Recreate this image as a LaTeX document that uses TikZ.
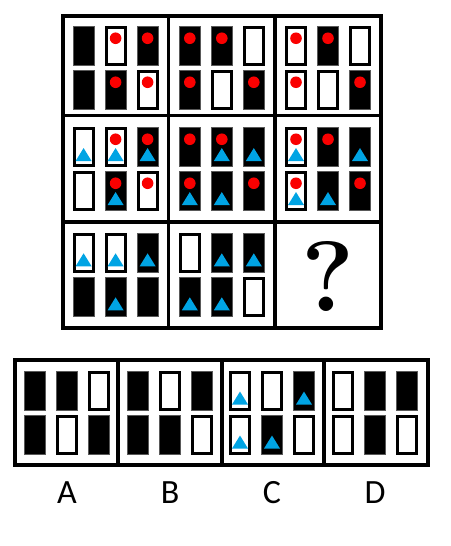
\documentclass[tikz,border=0pt]{standalone}
\usepackage{fontspec}
\setsansfont{Carlito}
\definecolor{dotred}{RGB}{250,0,0}
\definecolor{triblue}{RGB}{0,164,228}
\tikzset{
  wbox/.style={draw=black,fill=white,line width=3pt},
  bbox/.style={draw=black!65,fill=black,line width=0.8pt},
  reddot/.style={fill=dotred},
  bluetri/.style={fill=triblue},
  frame/.style={draw=black,line width=3.2pt},
  lbl/.style={inner sep=0pt,anchor=base,font=\sffamily\fontsize{34}{40}\selectfont}
}
% #1 x, #2 y of slot centre, #3 W/B, #4 dot, #5 triangle
\newcommand\slotbox[5]{%
  \if#3W
    \draw[wbox] ({#1-9.5},{#2-18.5}) rectangle ({#1+9.5},{#2+18.5});
  \else
    \draw[bbox] ({#1-10.6},{#2-19.6}) rectangle ({#1+10.6},{#2+19.6});
  \fi
  \ifnum#4=1 \fill[reddot] ({#1},{#2-8}) circle[radius=5.8pt]; \fi
  \ifnum#5=1 \fill[bluetri] ({#1-8},{#2+13.8}) -- ({#1+8},{#2+13.8}) -- ({#1},{#2+0.8}) -- cycle; \fi
}
% #1 cx, #2 cy, #3 list of six T/d/t
\newcommand\cellgroup[3]{%
  \foreach \T/\d/\t [count=\k from 0] in {#3}{%
    \pgfmathsetmacro\sx{#1+(mod(\k,3)-1)*32}%
    \pgfmathsetmacro\sy{#2-22+(\k>2)*44}%
    \slotbox{\sx}{\sy}{\T}{\d}{\t}%
  }%
}
\begin{document}
\begin{tikzpicture}[x=1pt,y=-1pt]
\useasboundingbox (0,0) rectangle (450,546);
% main grid
\draw[frame] (63,16) rectangle (381,328);
\draw[frame] (168.5,16) -- (168.5,328);
\draw[frame] (275,16) -- (275,328);
\draw[frame] (63,115.5) -- (381,115.5);
\draw[frame] (63,222) -- (381,222);
% row 1
\cellgroup{115.6}{68.25}{B/0/0,W/1/0,B/1/0,B/0/0,B/1/0,W/1/0}
\cellgroup{221.8}{68.25}{B/1/0,B/1/0,W/0/0,B/1/0,W/0/0,B/1/0}
\cellgroup{328}{68.25}{W/1/0,B/1/0,W/0/0,W/1/0,W/0/0,B/1/0}
% row 2
\cellgroup{115.6}{169.25}{W/0/1,W/1/1,B/1/1,W/0/0,B/1/1,W/1/0}
\cellgroup{221.8}{169.25}{B/1/0,B/1/1,B/0/1,B/1/1,B/0/1,B/1/0}
\cellgroup{328}{169.25}{W/1/1,B/1/0,B/0/1,W/1/1,B/0/1,B/1/0}
% row 3
\cellgroup{115.6}{274.5}{W/0/1,W/0/1,B/0/1,B/0/0,B/0/1,B/0/0}
\cellgroup{221.8}{274.5}{W/0/0,B/0/1,B/0/1,B/0/1,B/0/1,W/0/0}
\node[inner sep=0pt,anchor=base,font=\rmfamily\bfseries\fontsize{100}{106}\selectfont] (q) at (328,311) {?};
% options
\draw[frame] (15,360) rectangle (428,465);
\draw[frame] (118,360) -- (118,465);
\draw[frame] (222,360) -- (222,465);
\draw[frame] (324,360) -- (324,465);
\cellgroup{67}{412.75}{B/0/0,B/0/0,W/0/0,B/0/0,W/0/0,B/0/0}
\cellgroup{169.6}{412.75}{B/0/0,W/0/0,B/0/0,B/0/0,B/0/0,W/0/0}
\cellgroup{272}{412.75}{W/0/1,W/0/0,B/0/1,W/0/1,B/0/1,W/0/0}
\cellgroup{374.7}{412.75}{W/0/0,B/0/0,B/0/0,W/0/0,B/0/0,W/0/0}
\node[lbl] (la) at (67,503.5) {A};
\node[lbl] (lb) at (170,503.5) {B};
\node[lbl] (lc) at (272,503.5) {C};
\node[lbl] (ld) at (375,503.5) {D};
\end{tikzpicture}
\end{document}
